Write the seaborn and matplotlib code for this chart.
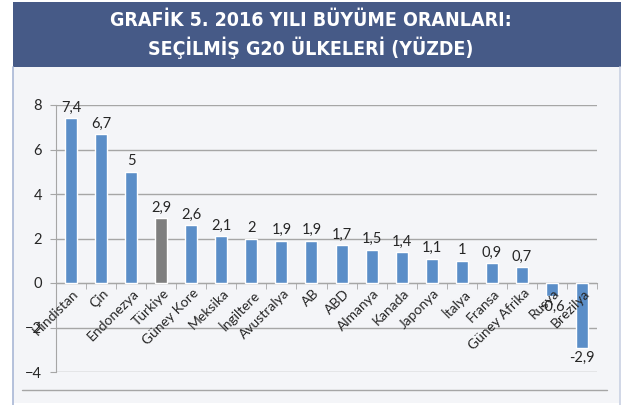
import matplotlib
matplotlib.use("Agg")
import matplotlib.pyplot as plt
import seaborn as sns
from matplotlib.patches import Rectangle
from matplotlib.lines import Line2D

# Veriler
ulkeler = ["Hindistan", "Çin", "Endonezya", "Türkiye", "Güney Kore", "Meksika",
           "İngiltere", "Avustralya", "AB", "ABD", "Almanya", "Kanada",
           "Japonya", "İtalya", "Fransa", "Güney Afrika", "Rusya", "Brezilya"]
buyume = [7.4, 6.7, 5.0, 2.9, 2.6, 2.1, 2.0, 1.9, 1.9, 1.7, 1.5, 1.4,
          1.1, 1.0, 0.9, 0.7, -0.6, -2.9]
y_ticks = [-4, -2, 0, 2, 4, 6, 8]

mavi = "#5b8ec8"
gri = "#7f7f7f"
renkler = [gri if u == "Türkiye" else mavi for u in ulkeler]

sns.set_style("white")
plt.rcParams["font.family"] = ["Lato", "DejaVu Sans"]

fig = plt.figure(figsize=(6.21, 4.05), dpi=100)
W, H = 621, 405

def fx(px):
    return px / W

def fy(py):
    return 1 - py / H

# Panel arka plani ve baslik bandi
fig.patches.append(Rectangle((fx(13), fy(403)), fx(607), 401 / H,
                             transform=fig.transFigure, facecolor="#f4f5f8",
                             edgecolor="none", zorder=-3))
fig.patches.append(Rectangle((fx(13), fy(67)), fx(608), 65 / H,
                             transform=fig.transFigure, facecolor="#465a87",
                             edgecolor="none", zorder=-2))
fig.lines.append(Line2D([fx(13), fx(13)], [fy(67), fy(405)], transform=fig.transFigure,
                        color="#a9b7d6", lw=1.2, zorder=-1))
fig.lines.append(Line2D([fx(620), fx(620)], [fy(67), fy(405)], transform=fig.transFigure,
                        color="#c9d1e3", lw=1.2, zorder=-1))
fig.lines.append(Line2D([fx(22), fx(607)], [fy(390), fy(390)], transform=fig.transFigure,
                        color="#a6a6a6", lw=1, zorder=-1))

baslik_font = dict(color="white", fontsize=14, fontweight="bold",
                   fontstretch="condensed", family=["DejaVu Sans"])
fig.text(fx(311), fy(21), "GRAFİK 5. 2016 YILI BÜYÜME ORANLARI:", ha="center",
         va="center", **baslik_font)
fig.text(fx(311), fy(48), "SEÇİLMİŞ G20 ÜLKELERİ (YÜZDE)", ha="center",
         va="center", **baslik_font)

ax = fig.add_axes([fx(56), 33 / H, fx(541), 267 / H])
ax.set_facecolor("none")
ax.set_zorder(2)

sns.barplot(x=ulkeler, y=buyume, hue=ulkeler, palette=renkler, legend=False,
            width=0.4, ax=ax, zorder=3, saturation=1)

ax.set_ylim(-4, 8)
ax.set_xlim(-0.5, len(ulkeler) - 0.5)
ax.set_yticks(y_ticks)
ax.yaxis.grid(True, color="#a6a6a6", lw=1, zorder=0)
ax.set_axisbelow(True)

for s in ["top", "right"]:
    ax.spines[s].set_visible(False)
ax.spines["left"].set_color("#a6a6a6")
ax.spines["bottom"].set_color("#a6a6a6")
ax.spines["bottom"].set_position(("data", 0))

ax.tick_params(axis="y", length=4, color="#a6a6a6", labelsize=10.5, pad=6, left=True)
ax.set_xticks(range(len(ulkeler)))
ax.set_xticklabels([])
ax.set_xticks([i + 0.5 for i in range(-1, len(ulkeler))], minor=True)
ax.tick_params(axis="x", which="major", length=0)
ax.tick_params(axis="x", which="minor", length=4, color="#a6a6a6", bottom=True)
ax.set_xlabel("")
ax.set_ylabel("")

# Kategori etiketleri (cubuklarin ustunde gorunsun diye metin olarak)
for i, u in enumerate(ulkeler):
    ax.annotate(u, xy=(i, 0), xytext=(1, -3), textcoords="offset points",
                rotation=45, ha="right", va="top", rotation_mode="anchor",
                fontsize=10, zorder=6)

etiketler = [f"{v:g}".replace(".", ",") for v in buyume]
for i, v in enumerate(buyume):
    if v >= 0:
        ax.text(i, v + 0.15, etiketler[i], ha="center", va="bottom", fontsize=10.5, zorder=6)
    else:
        ax.text(i, v - 0.15, etiketler[i], ha="center", va="top", fontsize=10.5, zorder=6)

fig.savefig("out.png", dpi=100)
